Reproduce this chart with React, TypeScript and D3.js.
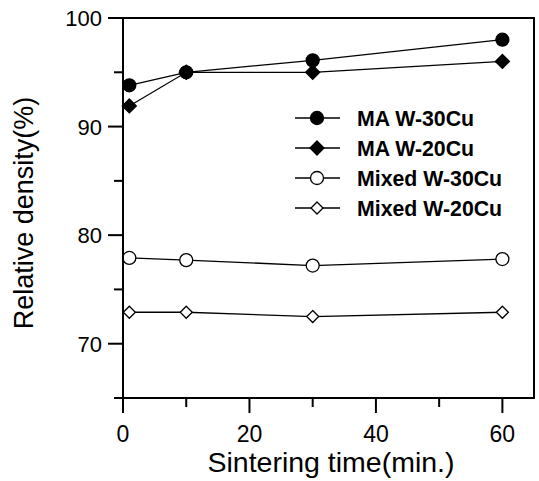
import React, { useRef, useEffect } from "react";
import * as d3 from "d3";

// sintering time (min.)
const times = [1, 10, 30, 60];
const maW30Cu = [93.8, 95.0, 96.1, 98.0];
const maW20Cu = [91.9, 95.0, 95.0, 96.0];
const mixedW30Cu = [77.9, 77.7, 77.2, 77.8];
const mixedW20Cu = [72.9, 72.9, 72.5, 72.9];

const seriesNames = ["MA W-30Cu", "MA W-20Cu", "Mixed W-30Cu", "Mixed W-20Cu"];
const xMajorTicks = [0, 20, 40, 60];
const xMinorTicks = [10, 30, 50];
const yMajorTicks = [70, 80, 90, 100];
const yMinorTicks = [65, 75, 85, 95];

const width = 539;
const height = 481;
const font = "'Liberation Sans', Arial, sans-serif";

export default function App() {
    const svgRef = useRef<SVGSVGElement>(null);

    useEffect(() => {
        document.body.style.margin = "0";
        const svg = d3.select(svgRef.current);
        svg.selectAll("*").remove();

        const x = d3.scaleLinear().domain([0, 65]).range([123, 534]);
        const y = d3.scaleLinear().domain([65, 100]).range([398, 18]);

        const series = [
            { name: seriesNames[0], values: maW30Cu, shape: "circle", filled: true },
            { name: seriesNames[1], values: maW20Cu, shape: "diamond", filled: true },
            { name: seriesNames[2], values: mixedW30Cu, shape: "circle", filled: false },
            { name: seriesNames[3], values: mixedW20Cu, shape: "diamond", filled: false },
        ];

        const drawMarker = (g: any, cx: number, cy: number, shape: string, filled: boolean) => {
            if (shape === "circle") {
                g.append("circle")
                    .attr("cx", cx).attr("cy", cy).attr("r", 6.5)
                    .attr("fill", filled ? "#000" : "#fff")
                    .attr("stroke", "#000").attr("stroke-width", 1.3);
            } else {
                const s = filled ? 7 : 6;
                g.append("path")
                    .attr("d", `M${cx},${cy - s}L${cx + s},${cy}L${cx},${cy + s}L${cx - s},${cy}Z`)
                    .attr("fill", filled ? "#000" : "#fff")
                    .attr("stroke", "#000").attr("stroke-width", 1.3);
            }
        };

        // data lines + markers
        const myLine = d3.line<number>()
            .x((_, i) => x(times[i]))
            .y(v => y(v));
        series.forEach(s => {
            svg.append("path")
                .attr("d", myLine(s.values))
                .attr("fill", "none")
                .attr("stroke", "#000")
                .attr("stroke-width", 1.3);
            const g = svg.append("g");
            s.values.forEach((v, i) => drawMarker(g, x(times[i]), y(v), s.shape, s.filled));
        });

        // frame
        svg.append("rect")
            .attr("x", x(0)).attr("y", y(100))
            .attr("width", x(65) - x(0)).attr("height", y(65) - y(100))
            .attr("fill", "none").attr("stroke", "#000").attr("stroke-width", 2);

        // x axis ticks
        const xAxis = svg.append("g");
        xMajorTicks.forEach(t => {
            xAxis.append("line")
                .attr("x1", x(t)).attr("x2", x(t))
                .attr("y1", y(65)).attr("y2", y(65) + 15)
                .attr("stroke", "#000").attr("stroke-width", 2);
            xAxis.append("text")
                .attr("x", x(t)).attr("y", 442)
                .attr("text-anchor", "middle")
                .attr("font-family", font).attr("font-size", 23)
                .text(t);
        });
        xMinorTicks.forEach(t => {
            xAxis.append("line")
                .attr("x1", x(t)).attr("x2", x(t))
                .attr("y1", y(65)).attr("y2", y(65) + 9)
                .attr("stroke", "#000").attr("stroke-width", 2);
        });

        // y axis ticks
        const yAxis = svg.append("g");
        yMajorTicks.forEach(t => {
            yAxis.append("line")
                .attr("x1", x(0) - 15).attr("x2", x(0))
                .attr("y1", y(t)).attr("y2", y(t))
                .attr("stroke", "#000").attr("stroke-width", 2);
            yAxis.append("text")
                .attr("x", x(0) - 21).attr("y", y(t) + 8)
                .attr("text-anchor", "end")
                .attr("font-family", font).attr("font-size", 22)
                .text(t);
        });
        yMinorTicks.forEach(t => {
            yAxis.append("line")
                .attr("x1", x(0) - 9).attr("x2", x(0))
                .attr("y1", y(t)).attr("y2", y(t))
                .attr("stroke", "#000").attr("stroke-width", 2);
        });

        // axis titles
        svg.append("text")
            .attr("x", 331).attr("y", 472)
            .attr("text-anchor", "middle")
            .attr("font-family", font).attr("font-size", 28.5)
            .text("Sintering time(min.)");
        svg.append("text")
            .attr("transform", "translate(33,213) rotate(-90)")
            .attr("text-anchor", "middle")
            .attr("font-family", font).attr("font-size", 27)
            .text("Relative density(%)");

        // legend
        const legend = svg.append("g");
        series.forEach((s, i) => {
            const ly = 118 + i * 30;
            legend.append("line")
                .attr("x1", 295).attr("x2", 340)
                .attr("y1", ly).attr("y2", ly)
                .attr("stroke", "#000").attr("stroke-width", 1.3);
            drawMarker(legend, 317, ly, s.shape, s.filled);
            legend.append("text")
                .attr("x", 357).attr("y", ly + 7.5)
                .attr("font-family", font).attr("font-size", 21.3)
                .attr("font-weight", "bold")
                .text(s.name);
        });
    }, []);

    return (
        <svg ref={svgRef} width={width} height={height} style={{ display: "block", background: "#fff" }} />
    );
}
